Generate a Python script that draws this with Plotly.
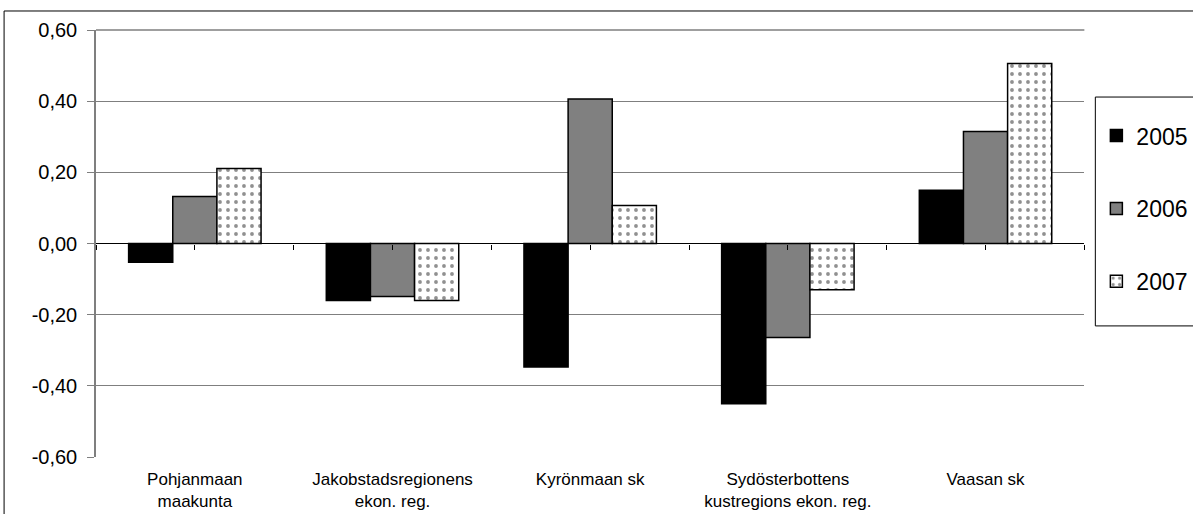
import plotly.graph_objects as go

regions = ['Pohjanmaan<br>maakunta', 'Jakobstadsregionens<br>ekon. reg.', 'Kyrönmaan sk',
           'Sydösterbottens<br>kustregions ekon. reg.', 'Vaasan sk']
years = ['2005', '2006', '2007']
v2005 = [-0.053, -0.160, -0.347, -0.450, 0.150]
v2006 = [0.132, -0.149, 0.406, -0.264, 0.315]
v2007 = [0.211, -0.160, 0.107, -0.130, 0.506]
y_ticks = [-0.6, -0.4, -0.2, 0.0, 0.2, 0.4, 0.6]
y_labels = ['-0,60', '-0,40', '-0,20', '0,00', '0,20', '0,40', '0,60']

FONT = 'Arial, Liberation Sans, sans-serif'

fig = go.Figure()
fig.add_trace(go.Bar(name=years[0], x=regions, y=v2005, legendgroup='a',
                     marker=dict(color='black', line=dict(color='black', width=1.5))))
fig.add_trace(go.Bar(name=years[1], x=regions, y=v2006, legendgroup='b',
                     marker=dict(color='#808080', line=dict(color='black', width=1.5))))
fig.add_trace(go.Bar(name=years[2], x=regions, y=v2007, legendgroup='c',
                     marker=dict(color='white', line=dict(color='black', width=1.5),
                                 pattern=dict(shape='.', fgcolor='#222222', bgcolor='white',
                                              size=8, solidity=0.18))))
# helper trace so the category ticks on the zero line get drawn
fig.add_trace(go.Scatter(x=[0, 5], y=[0, 0], xaxis='x2', mode='lines',
                         line=dict(color='rgba(0,0,0,0)'), showlegend=False, hoverinfo='skip'))

fig.update_layout(
    width=1193, height=514, autosize=False,
    margin=dict(l=96, r=107, t=30, b=57),
    paper_bgcolor='white', plot_bgcolor='white',
    font=dict(family=FONT, color='black'),
    barmode='group', bargap=0.33, bargroupgap=0,
    showlegend=True,
    legend=dict(xref='container', yref='container', x=0.919, y=0.778,
                xanchor='left', yanchor='top',
                traceorder='grouped', tracegroupgap=40,
                font=dict(size=23, family=FONT), bgcolor='rgba(0,0,0,0)'),
    xaxis=dict(range=[-0.5, 4.5], showgrid=False, ticks='', showline=False,
               automargin=False,
               tickfont=dict(size=17, family=FONT), ticklabelstandoff=10),
    xaxis2=dict(overlaying='x', anchor='free', position=0.5, range=[0, 5],
                tick0=0, dtick=0.5, ticks='outside', ticklen=5, tickcolor='black',
                showticklabels=False, showgrid=False, showline=False, zeroline=False),
    yaxis=dict(range=[-0.6, 0.6], tickvals=y_ticks, ticktext=y_labels,
               automargin=False,
               showgrid=True, gridcolor='#7f7f7f', gridwidth=1,
               zeroline=True, zerolinecolor='black', zerolinewidth=1,
               showline=True, linecolor='#7f7f7f', linewidth=1.5,
               ticks='outside', ticklen=7, tickcolor='#7f7f7f',
               ticklabelstandoff=6,
               tickfont=dict(size=20, family=FONT)),
    shapes=[
        dict(type='rect', xref='paper', yref='paper', x0=-0.093, x1=1.3, y0=-0.3, y1=1.0445,
             line=dict(color='black', width=1)),
        dict(type='rect', xref='paper', yref='paper', x0=1.0111, x1=1.3, y0=0.307, y1=0.843,
             line=dict(color='black', width=1)),
        dict(type='line', xref='paper', yref='paper', x0=0, x1=1, y0=1, y1=1,
             line=dict(color='#7f7f7f', width=1.5)),
    ],
)

fig.write_html('out.html', config={'displayModeBar': False},
               post_script="document.body.style.margin='0';")
